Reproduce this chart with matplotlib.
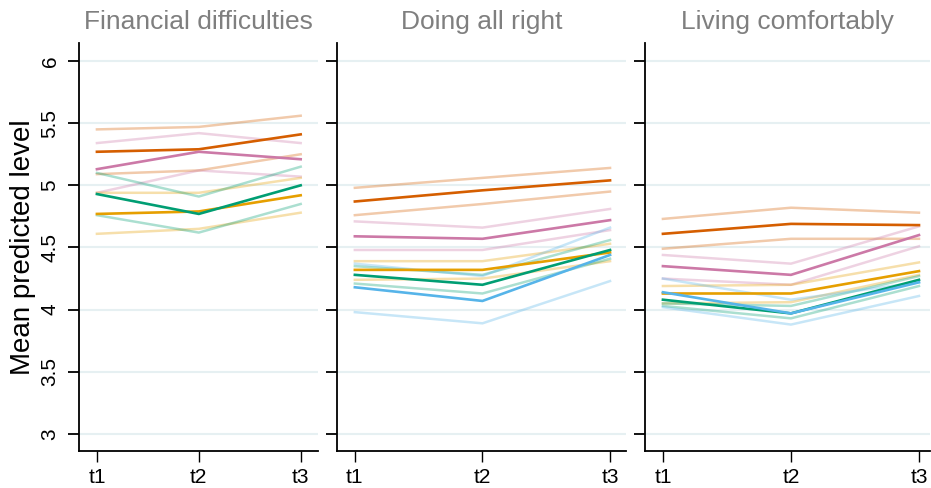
import numpy as np
import matplotlib.pyplot as plt

plt.rcParams['font.family'] = ['Liberation Sans', 'DejaVu Sans']

panels = ["Financial difficulties", "Doing all right", "Living comfortably"]
waves = ["t1", "t2", "t3"]

# colour groups: main line, then two faded companion lines (values at t1, t2, t3)
colors = {
    "vermillion": "#D55E00",
    "purple": "#CC79A7",
    "orange": "#E69F00",
    "green": "#009E73",
    "blue": "#56B4E9",
}

# Financial difficulties
fin_vermillion = [[5.27, 5.29, 5.41], [5.45, 5.47, 5.56], [5.09, 5.12, 5.25]]
fin_purple = [[5.13, 5.27, 5.21], [5.34, 5.42, 5.34], [4.94, 5.12, 5.07]]
fin_orange = [[4.77, 4.79, 4.92], [4.94, 4.94, 5.06], [4.61, 4.65, 4.78]]
fin_green = [[4.93, 4.77, 5.00], [5.10, 4.91, 5.15], [4.76, 4.62, 4.85]]

# Doing all right
ok_vermillion = [[4.87, 4.96, 5.04], [4.98, 5.06, 5.14], [4.76, 4.85, 4.95]]
ok_purple = [[4.59, 4.57, 4.72], [4.71, 4.66, 4.81], [4.48, 4.48, 4.64]]
ok_orange = [[4.32, 4.32, 4.46], [4.39, 4.39, 4.53], [4.24, 4.25, 4.39]]
ok_green = [[4.28, 4.20, 4.48], [4.35, 4.28, 4.56], [4.21, 4.13, 4.41]]
ok_blue = [[4.18, 4.07, 4.44], [4.37, 4.27, 4.66], [3.98, 3.89, 4.23]]

# Living comfortably
com_vermillion = [[4.61, 4.69, 4.68], [4.73, 4.82, 4.78], [4.49, 4.57, 4.57]]
com_purple = [[4.35, 4.28, 4.60], [4.44, 4.37, 4.67], [4.25, 4.20, 4.51]]
com_orange = [[4.13, 4.13, 4.31], [4.19, 4.20, 4.38], [4.05, 4.06, 4.28]]
com_green = [[4.08, 3.97, 4.24], [4.05, 4.03, 4.27], [4.03, 3.93, 4.19]]
com_blue = [[4.14, 3.97, 4.22], [4.25, 4.08, 4.22], [4.02, 3.88, 4.11]]

panel_data = [
    {"vermillion": fin_vermillion, "purple": fin_purple, "orange": fin_orange, "green": fin_green},
    {"vermillion": ok_vermillion, "purple": ok_purple, "orange": ok_orange, "green": ok_green, "blue": ok_blue},
    {"vermillion": com_vermillion, "purple": com_purple, "orange": com_orange, "green": com_green, "blue": com_blue},
]

W, H = 931, 488
fig = plt.figure(figsize=(W / 100, H / 100), dpi=100)

# axes boxes in pixels: left, right, and x-limits
boxes = [(79, 318, 0.824, 3.17), (337, 626, 0.86, 3.125), (645, 930, 0.86, 3.086)]
top, bottom = 43, 451
ylim = (2.863, 6.145)
grid_col = "#e6f0f2"

x = np.arange(1, 4)
for i, (title, data, (l, r, x0, x1)) in enumerate(zip(panels, panel_data, boxes)):
    ax = fig.add_axes([l / W, 1 - bottom / H, (r - l) / W, (bottom - top) / H])
    ax.set_xlim(x0, x1)
    ax.set_ylim(*ylim)
    yt = np.arange(3, 6.01, 0.5)
    ax.set_yticks(yt)
    for v in yt:
        ax.axhline(v, color=grid_col, lw=1.5, zorder=0)

    # faded lines first
    for name, lines in data.items():
        for ln in lines[1:]:
            ax.plot(x, ln, color=colors[name], lw=1.8, alpha=0.33, zorder=2)
    for name, lines in data.items():
        ax.plot(x, lines[0], color=colors[name], lw=1.9, zorder=3)

    ax.set_xticks(x)
    ax.set_xticklabels(waves, fontsize=15)
    if i == 0:
        ax.set_yticklabels(["3", "3.5", "4", "4.5", "5", "5.5", "6"], fontsize=15,
                           rotation=90, va="center")
        ax.set_ylabel("Mean predicted level", fontsize=20, labelpad=3)
    else:
        ax.set_yticklabels([])
    ax.tick_params(axis="y", length=8, width=1.3, pad=6)
    ax.tick_params(axis="x", length=8, width=1.0, pad=4)
    for s in ["top", "right"]:
        ax.spines[s].set_visible(False)
    for s in ["left", "bottom"]:
        ax.spines[s].set_linewidth(1.3)
    ax.set_title(title, fontsize=19, color="#7f7f7f", pad=10)

fig.savefig("out.png", dpi=100)
